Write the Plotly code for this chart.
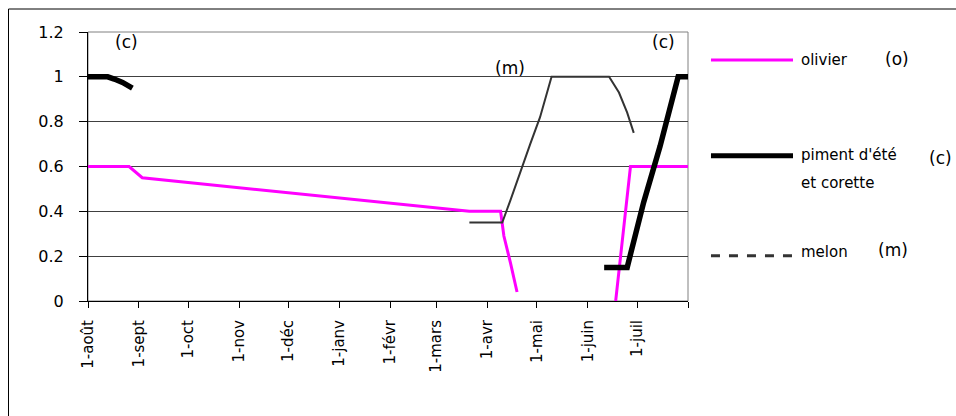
import plotly.graph_objects as go

# ---- axis ticks ----
month_ticks = ["2001-08-01", "2001-09-01", "2001-10-01", "2001-11-01", "2001-12-01",
               "2002-01-01", "2002-02-01", "2002-03-01", "2002-04-01", "2002-05-01",
               "2002-06-01", "2002-07-01", "2002-08-01"]
month_labels = ["1-août", "1-sept", "1-oct", "1-nov", "1-déc", "1-janv", "1-févr",
                "1-mars", "1-avr", "1-mai", "1-juin", "1-juil", ""]
y_ticks = [0, 0.2, 0.4, 0.6, 0.8, 1.0, 1.2]
y_labels = ["0", "0.2", "0.4", "0.6", "0.8", "1", "1.2"]

# ---- series (Kc values) ----
olivier_dates = ["2001-08-01", "2001-08-26", "2001-09-03", "2002-03-21", "2002-04-09",
                 "2002-04-10", "2002-04-11", "2002-04-15", "2002-04-17", "2002-04-19",
                 None,
                 "2002-06-18", "2002-06-21", "2002-06-24", "2002-06-25", "2002-06-26",
                 "2002-06-27", "2002-08-01"]
olivier_kc = [0.60, 0.60, 0.55, 0.40, 0.40,
              0.35, 0.29, 0.17, 0.11, 0.04,
              None,
              0.0, 0.20, 0.38, 0.45, 0.54,
              0.60, 0.60]

piment_dates = ["2001-08-01", "2001-08-13", "2001-08-17", "2001-08-22", "2001-08-28",
                None,
                "2002-06-11", "2002-06-25", "2002-07-05", "2002-07-15", "2002-07-26",
                "2002-08-01"]
piment_kc = [1.0, 1.0, 0.99, 0.975, 0.95,
             None,
             0.15, 0.15, 0.44, 0.69, 1.0,
             1.0]

melon_dates = ["2002-03-21", "2002-04-10", "2002-04-15", "2002-04-22", "2002-04-27",
               "2002-05-03", "2002-05-10", "2002-06-14", "2002-06-20", "2002-06-25",
               "2002-06-29"]
melon_kc = [0.35, 0.35, 0.45, 0.60, 0.70,
            0.82, 1.0, 1.0, 0.93, 0.84,
            0.75]

FONT = "DejaVu Sans"

fig = go.Figure()
fig.add_trace(go.Scatter(x=olivier_dates, y=olivier_kc, mode="lines", name="olivier",
                         line=dict(color="#FF00FF", width=3), connectgaps=False))
fig.add_trace(go.Scatter(x=melon_dates, y=melon_kc, mode="lines", name="melon",
                         line=dict(color="#333333", width=2)))
fig.add_trace(go.Scatter(x=piment_dates, y=piment_kc, mode="lines",
                         name="piment d'été et corette",
                         line=dict(color="#000000", width=5.5), connectgaps=False))

shapes = [
    # plot-area border
    dict(type="rect", xref="paper", yref="paper", x0=0, x1=1, y0=0, y1=1,
         line=dict(color="#808080", width=1), layer="below"),
    # outer chart border: only the left and top edges are inside the picture
    dict(type="line", xref="paper", yref="paper", x0=-0.1325, x1=-0.1325, y0=-0.6, y1=1.0855,
         line=dict(color="#000000", width=1), layer="below"),
    dict(type="line", xref="paper", yref="paper", x0=-0.1325, x1=1.6, y0=1.0855, y1=1.0855,
         line=dict(color="#000000", width=1), layer="below"),
    # legend samples
    dict(type="line", xref="paper", yref="paper", x0=1.0383, x1=1.175, y0=0.896, y1=0.896,
         line=dict(color="#FF00FF", width=3)),
    dict(type="line", xref="paper", yref="paper", x0=1.0383, x1=1.175, y0=0.540, y1=0.540,
         line=dict(color="#000000", width=5)),
    dict(type="line", xref="paper", yref="paper", x0=1.0383, x1=1.175, y0=0.168, y1=0.168,
         line=dict(color="#333333", width=3, dash="dash")),
]

def ann(text, x, y, xanchor="center", size=15):
    return dict(text=text, x=x, y=y, xref="paper", yref="paper", showarrow=False,
                xanchor=xanchor, yanchor="middle", font=dict(family=FONT, size=size, color="black"))

annotations = [
    ann("(c)", 0.0645, 0.964, size=17),
    ann("(c)", 0.959, 0.964, size=17),
    ann("(m)", 0.703, 0.865, size=17),
    ann("olivier", 1.185, 0.896, "left", 15),
    ann("(o)", 1.3478, 0.899, size=17),
    ann("piment d'été", 1.185, 0.543, "left", 15),
    ann("et corette", 1.185, 0.4375, "left", 15),
    ann("(c)", 1.421, 0.532, size=17),
    ann("melon", 1.185, 0.183, "left", 15),
    ann("(m)", 1.341, 0.19, size=17),
]

fig.update_layout(
    width=956, height=416,
    margin=dict(l=88, r=268, t=32, b=115),
    paper_bgcolor="white", plot_bgcolor="white",
    showlegend=False,
    font=dict(family=FONT, size=15, color="black"),
    shapes=shapes, annotations=annotations,
    xaxis=dict(type="date", range=["2001-08-01", "2002-08-01"],
               tickvals=month_ticks, ticktext=month_labels, tickangle=-90,
               showgrid=False, zeroline=False, showline=True, linecolor="black", linewidth=1,
               ticks="outside", ticklen=6, tickcolor="black",
               tickfont=dict(family=FONT, size=15, color="black"), ticklabelstandoff=6),
    yaxis=dict(range=[0, 1.2], tickvals=y_ticks, ticktext=y_labels,
               showgrid=True, gridcolor="#404040", gridwidth=1, zeroline=False,
               showline=True, linecolor="black", linewidth=1,
               ticks="outside", ticklen=8, tickcolor="black",
               tickfont=dict(family=FONT, size=16, color="black"), ticklabelstandoff=12),
)

fig.write_html(
    "out.html",
    config={"displayModeBar": False},
    post_script="document.body.style.margin='0';document.body.style.overflow='hidden';",
)
